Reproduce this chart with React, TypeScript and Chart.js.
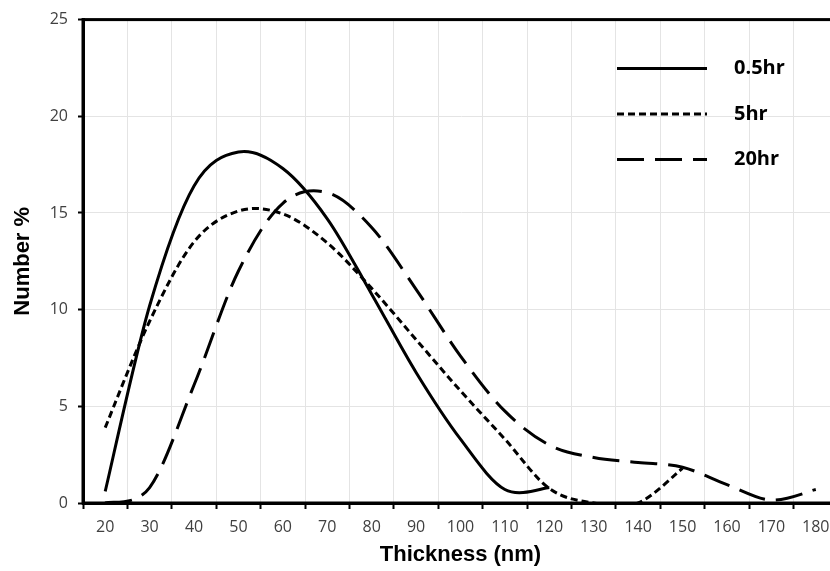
import React, { useEffect, useRef } from 'react';
import { Chart, registerables } from 'chart.js';

Chart.register(...registerables);

const categories = ['20', '30', '40', '50', '60', '70', '80', '90', '100', '110', '120', '130', '140', '150', '160', '170', '180'];
const hr05 = [0.6, 10.2, 16.4, 18.15, 17.3, 14.7, 10.8, 6.75, 3.3, 0.7, 0.8, null, null, null, null, null, null];
const hr5 = [3.9, 9.4, 13.5, 15.1, 14.95, 13.45, 11.1, 8.45, 5.8, 3.3, 0.75, 0, 0, 1.8, null, null, null];
const hr20 = [0, 0.8, 6.1, 12.0, 15.5, 16.05, 14.25, 11.05, 7.6, 4.75, 3.0, 2.35, 2.1, 1.85, 0.95, 0.15, 0.7];
const seriesLabels = ['0.5hr', '5hr', '20hr'];
const yMin = 0;
const yMax = 25;
const yStep = 5;

const dashes: number[][] = [[], [7, 4], [27, 11]];

// Excel-like smoothing: uniform Catmull-Rom control points (1/6 rule)
const excelSmooth = {
  id: 'excelSmooth',
  beforeDatasetDraw(chart: any, args: any) {
    const meta = args.meta;
    const line = meta.dataset;
    const pts = meta.data;
    if (!line || !pts) return;
    const n = pts.length;
    for (let i = 0; i < n; i++) {
      const p = pts[i];
      if (p.skip) continue;
      const prev = i > 0 && !pts[i - 1].skip ? pts[i - 1] : p;
      const next = i < n - 1 && !pts[i + 1].skip ? pts[i + 1] : p;
      const dx = (next.x - prev.x) / 6;
      const dy = (next.y - prev.y) / 6;
      p.cp1x = p.x - dx;
      p.cp1y = p.y - dy;
      p.cp2x = p.x + dx;
      p.cp2y = p.y + dy;
    }
    line._pointsUpdated = true;
    line._path = undefined;
  },
};

const plotBox = {
  id: 'plotBox',
  beforeDatasetsDraw(chart: any) {
    const { ctx, chartArea: a } = chart;
    ctx.save();
    ctx.strokeStyle = '#000';
    ctx.lineWidth = 3;
    ctx.strokeRect(a.left, a.top, a.right - a.left, a.bottom - a.top);
    ctx.restore();
  },
};

const innerLegend = {
  id: 'innerLegend',
  afterDatasetsDraw(chart: any) {
    const { ctx, chartArea: a } = chart;
    ctx.save();
    chart.data.datasets.forEach((ds: any, i: number) => {
      const y = a.top + 49 + i * 45.5;
      const x0 = a.left + 534;
      ctx.strokeStyle = '#000';
      ctx.lineWidth = 3;
      ctx.lineCap = 'butt';
      ctx.setLineDash(ds.borderDash || []);
      ctx.beginPath();
      ctx.moveTo(x0, y);
      ctx.lineTo(x0 + 90, y);
      ctx.stroke();
      ctx.setLineDash([]);
      ctx.fillStyle = '#000';
      ctx.font = 'bold 20px "Open Sans"';
      ctx.textBaseline = 'middle';
      ctx.textAlign = 'left';
      ctx.fillText(ds.label, x0 + 117, y);
    });
    ctx.restore();
  },
};

export default function App() {
  const ref = useRef<HTMLCanvasElement>(null);
  useEffect(() => {
    if (!ref.current) return;
    const values = [hr05, hr5, hr20];
    const chart = new Chart(ref.current, {
      type: 'line',
      data: {
        labels: categories,
        datasets: values.map((v, i) => ({
          label: seriesLabels[i],
          data: v,
          borderColor: '#000',
          backgroundColor: '#000',
          borderWidth: 3,
          borderDash: dashes[i],
          borderCapStyle: 'butt',
          pointRadius: 0,
          tension: 0.4,
          fill: false,
        })),
      },
      options: {
        responsive: false,
        animation: false,
        layout: { padding: { left: 0, top: 15, right: 12, bottom: 0 } },
        plugins: { legend: { display: false }, tooltip: { enabled: false } },
        scales: {
          x: {
            type: 'category',
            offset: true,
            grid: { offset: true, color: '#e4e4e4', lineWidth: 1, tickColor: '#000', tickLength: 6, tickWidth: 2 },
            border: { color: '#000', width: 3 },
            ticks: { autoSkip: false, maxRotation: 0, padding: 9, color: '#404040', font: { family: '"Open Sans"', size: 16 } },
            title: { display: true, text: 'Thickness (nm)', color: '#000', font: { family: '"Liberation Sans"', size: 22, weight: 'bold' }, padding: { top: 0, bottom: 3 } },
            afterFit(scale: any) { scale.height = 68; },
          },
          y: {
            min: yMin,
            max: yMax,
            ticks: { stepSize: yStep, padding: 10, color: '#404040', font: { family: '"Open Sans"', size: 16 } },
            grid: { color: '#e4e4e4', lineWidth: 1, tickColor: '#000', tickLength: 5, tickWidth: 2 },
            border: { color: '#000', width: 3 },
            title: { display: true, text: 'Number %', color: '#000', font: { family: '"Liberation Sans"', size: 22, weight: 'bold' }, padding: { top: 10, bottom: 0 } },
            afterFit(scale: any) { scale.width = 83; },
          },
        },
      },
      plugins: [excelSmooth, plotBox, innerLegend],
    } as any);
    return () => chart.destroy();
  }, []);
  return (
    <div style={{ position: 'fixed', left: 0, top: 0, width: 830, height: 571, overflow: 'hidden', background: '#fff' }}>
      <canvas ref={ref} width={850} height={571} style={{ display: 'block' }} />
    </div>
  );
}
